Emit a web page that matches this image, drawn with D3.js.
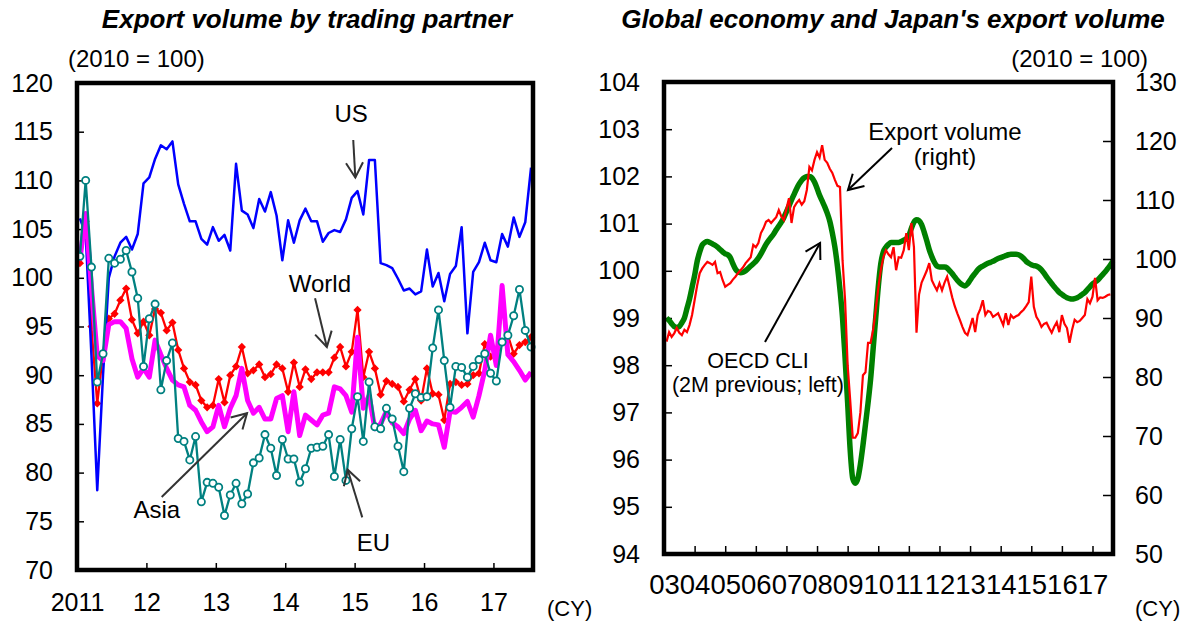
<!DOCTYPE html>
<html>
<head>
<meta charset="utf-8">
<script src="https://cdn.jsdelivr.net/npm/d3@7"></script>
<style>
  body { margin: 0; background: #fff; }
  text { font-family: Arial, "Liberation Sans", sans-serif; fill: #000; }
</style>
</head>
<body>
<svg id="chart" width="1192" height="626"></svg>
<script>
// ---- left panel: export volume by trading partner, monthly from Jan 2011 (2010 = 100)
const partnerTickYears = [2011, 2012, 2013, 2014, 2015, 2016, 2017];
const partnerTicks = [70, 75, 80, 85, 90, 95, 100, 105, 110, 115, 120];

const usVolume = [
  106.1, 104.5, 92.0, 78.2, 90.0, 100.0, 102.2, 103.6, 104.2, 102.9, 104.5, 109.7,
  110.3, 112.2, 113.6, 113.2, 114.0, 109.6, 107.6, 105.8, 105.8, 104.0, 103.4, 105.2,
  103.8, 104.4, 102.8, 111.7, 106.9, 106.5, 105.1, 108.1, 106.8, 108.8, 106.4, 101.8,
  105.9, 103.6, 105.9, 107.1, 105.8, 105.8, 103.7, 104.6, 104.9, 104.7, 106.0, 108.2,
  108.9, 106.5, 112.1, 112.1, 101.5, 101.3, 101.0, 99.9, 98.7, 98.9, 98.3, 98.6,
  102.9, 99.1, 100.5, 97.6, 100.4, 101.2, 105.2, 94.3, 100.6, 101.6, 103.6, 101.8,
  101.6, 104.5, 103.2, 106.2, 104.2, 105.7, 111.3
];
const worldVolume = [
  101.5, 105.8, 95.0, 87.1, 92.2, 95.8, 96.3, 97.7, 98.9, 95.7, 94.3, 95.5,
  94.1, 96.8, 96.4, 94.6, 95.4, 92.6, 90.7, 89.3, 89.0, 87.4, 86.7, 86.9,
  89.6, 87.2, 90.0, 90.9, 92.9, 90.2, 90.5, 91.1, 89.8, 90.1, 91.1, 90.7,
  88.3, 91.3, 88.8, 90.6, 89.6, 90.3, 90.3, 90.3, 91.8, 92.9, 90.9, 92.4,
  96.7, 89.8, 92.4, 90.7, 88.0, 89.4, 89.1, 88.8, 87.3, 88.5, 89.6, 87.4,
  90.7, 88.1, 88.0, 85.4, 89.1, 89.3, 89.0, 89.1, 90.0, 90.2, 93.2, 91.9,
  92.6, 96.7, 94.1, 92.2, 93.1, 93.4, 93.9
];
const asiaVolume = [
  101.8, 106.6, 99.0, 92.0, 91.5, 95.2, 95.5, 95.5, 94.8, 91.7, 89.8, 90.7,
  89.8, 93.6, 92.1, 90.7, 89.5, 89.0, 88.8, 86.9, 86.4, 85.2, 84.2, 84.7,
  86.9, 84.7, 86.6, 87.9, 90.7, 87.4, 86.1, 86.7, 85.5, 85.5, 87.6, 87.9,
  84.2, 88.3, 83.8, 85.9, 85.4, 84.9, 85.9, 86.1, 88.8, 88.6, 87.9, 86.2,
  93.9, 86.6, 87.9, 84.5, 85.0, 86.3, 85.1, 84.7, 84.0, 85.5, 86.4, 84.3,
  85.3, 85.0, 84.9, 82.6, 86.3, 86.2, 86.7, 87.3, 85.7, 87.9, 90.5, 94.1,
  91.0, 99.2, 92.1, 91.4, 90.5, 89.5, 90.3
];
const euVolume = [
  102.2, 110.0, 101.1, 89.3, 92.2, 102.0, 101.5, 101.9, 102.8, 100.6, 97.9, 90.9,
  95.8, 97.3, 88.5, 91.5, 93.3, 83.5, 83.2, 81.3, 83.7, 77.0, 79.0, 78.9,
  78.5, 75.6, 77.7, 78.9, 76.8, 77.8, 81.0, 81.5, 83.9, 82.5, 79.7, 83.4,
  81.4, 81.4, 79.0, 80.4, 82.5, 82.6, 82.7, 83.9, 79.6, 83.4, 79.2, 84.5,
  87.8, 83.2, 89.3, 84.7, 84.5, 86.6, 85.5, 82.7, 80.1, 86.6, 88.1, 87.7,
  87.8, 92.8, 96.7, 91.5, 86.7, 90.9, 90.8, 89.8, 90.9, 91.6, 92.2, 90.2,
  89.4, 93.4, 94.1, 96.1, 98.8, 94.6, 92.9
];

// ---- right panel: OECD CLI (left axis) and Japan's export volume (right axis), monthly from Jan 2003
const globalTickYears = d3.range(2003, 2018);
const cliTicks = [94, 95, 96, 97, 98, 99, 100, 101, 102, 103, 104];
const exportTicks = [50, 60, 70, 80, 90, 100, 110, 120, 130];

const oecdCli = [
  99.0, 98.95, 98.88, 98.82, 98.8, 98.82, 98.9, 99.0, 99.2, 99.4, 99.65, 99.9,
  100.2, 100.4, 100.55, 100.6, 100.62, 100.6, 100.57, 100.54, 100.5, 100.45, 100.4, 100.36,
  100.34, 100.28, 100.15, 100.04, 99.98, 99.96, 99.97, 100.0, 100.05, 100.1, 100.15, 100.2,
  100.27, 100.36, 100.46, 100.56, 100.64, 100.71, 100.78, 100.87, 100.95, 101.03, 101.13, 101.25,
  101.37, 101.5, 101.62, 101.74, 101.84, 101.92, 101.97, 102.0, 102.0, 101.97, 101.88, 101.75,
  101.6, 101.48, 101.36, 101.22, 101.05, 100.8, 100.5, 100.1, 99.6, 99.0, 98.15, 97.2,
  96.2, 95.6, 95.5, 95.6, 95.9, 96.3, 96.75, 97.2, 97.7, 98.35, 99.0, 99.65,
  100.15, 100.4, 100.5, 100.56, 100.6, 100.6, 100.6, 100.6, 100.62, 100.65, 100.68, 100.75,
  100.9, 101.03, 101.08, 101.06, 100.98, 100.82, 100.64, 100.45, 100.3, 100.18, 100.1, 100.08,
  100.08, 100.08, 100.06, 100.0, 99.94, 99.87, 99.8, 99.74, 99.7, 99.68, 99.72, 99.8,
  99.88, 99.95, 100.02, 100.07, 100.1, 100.13, 100.16, 100.18, 100.2, 100.23, 100.26, 100.28,
  100.3, 100.32, 100.34, 100.35, 100.35, 100.35, 100.34, 100.31, 100.26, 100.2, 100.16, 100.13,
  100.11, 100.1, 100.07, 100.02, 99.95, 99.87, 99.8, 99.73, 99.66, 99.6, 99.54, 99.5,
  99.46, 99.43, 99.41, 99.4, 99.41, 99.43, 99.46, 99.5, 99.54, 99.6, 99.66, 99.72,
  99.76, 99.8, 99.86, 99.92, 99.98, 100.05, 100.12, 100.2
];
const exportVolume = [
  86.0, 87.6, 86.8, 87.4, 88.3, 87.5, 87.1, 88.0, 87.6, 88.8, 90.5, 93.0,
  95.5, 97.6, 98.4, 99.0, 99.5, 99.3, 99.0, 99.5, 97.6, 97.8, 96.4, 95.3,
  95.6, 95.9, 96.5, 97.0, 97.6, 98.1, 98.6, 99.3, 99.8, 100.3, 102.4, 102.0,
  102.7, 104.4, 105.2, 106.3, 106.6, 106.1, 106.6, 107.1, 108.3, 107.2, 106.6, 108.5,
  110.3, 106.1, 108.8, 109.5, 110.0, 109.2, 109.8, 111.7, 115.6, 115.0, 116.8, 118.1,
  117.2, 119.3, 116.8, 116.3, 115.3, 114.6, 113.4, 112.4, 112.2, 99.8, 93.0, 82.0,
  76.1, 69.7, 69.7, 70.5, 74.0, 80.3, 80.8, 85.8, 85.8, 88.0, 91.4, 95.0,
  98.1, 100.3, 101.5, 100.8, 100.3, 102.0, 98.1, 100.3, 100.2, 101.5, 104.4, 101.5,
  106.1, 102.0, 87.5, 94.0, 96.0, 97.0, 98.0, 99.3, 96.4, 95.5, 94.7, 95.9,
  94.7, 96.0, 97.0, 95.3, 93.5, 92.0, 90.8, 89.7, 88.5, 87.5, 87.1, 88.5,
  90.0, 87.6, 90.5, 91.5, 93.0, 90.5, 91.2, 91.0, 90.2, 90.5, 90.8, 89.8,
  88.8, 90.8, 88.8, 90.5, 90.0, 90.3, 90.5, 91.0, 91.4, 92.0, 92.7, 97.0,
  91.9, 90.2, 89.5, 88.5, 89.0, 89.2, 88.3, 87.5, 88.5, 89.3, 87.6, 90.5,
  89.0, 88.3, 85.8, 88.0, 89.7, 89.3, 89.5, 90.0, 90.5, 93.2, 92.5, 93.6,
  96.8, 93.0, 93.5, 93.4, 93.6, 93.9, 94.0
];

const svg = d3.select('#chart');
const tickFont = 25;
const noteFont = 24;

function arrow(g, p1, p2, color) {
  const ang = Math.atan2(p2[1] - p1[1], p2[0] - p1[0]);
  const len = 17, spread = Math.PI / 6;
  const head = [ang + Math.PI - spread, ang + Math.PI + spread]
    .map(a => [p2[0] + len * Math.cos(a), p2[1] + len * Math.sin(a)]);
  g.append('line')
    .attr('x1', p1[0]).attr('y1', p1[1])
    .attr('x2', p2[0]).attr('y2', p2[1])
    .attr('stroke', color).attr('stroke-width', 2);
  g.append('path')
    .attr('d', `M${head[0][0]},${head[0][1]}L${p2[0]},${p2[1]}L${head[1][0]},${head[1][1]}`)
    .attr('fill', 'none').attr('stroke', color).attr('stroke-width', 2);
}

function styleAxis(g, size) {
  g.select('.domain').remove();
  g.selectAll('.tick line').attr('stroke', '#000').attr('stroke-width', 1.5);
  g.selectAll('.tick text')
    .attr('font-size', size || tickFont)
    .attr('font-family', 'Arial, "Liberation Sans", sans-serif')
    .attr('fill', '#000');
}

// ================= left panel =================
const L = {left: 77, right: 533, top: 83, bottom: 570};
const xL = d3.scaleLinear().domain([2011, 2017.57]).range([L.left, L.right]);
const yL = d3.scaleLinear().domain([70, 120]).range([L.bottom, L.top]);
const monthL = i => 2011 + (i + 0.5) / 12;

svg.append('text')
  .attr('x', 307).attr('y', 28)
  .attr('text-anchor', 'middle')
  .attr('font-size', 26).attr('font-weight', 'bold').attr('font-style', 'italic')
  .text('Export volume by trading partner');
svg.append('text')
  .attr('x', 68).attr('y', 67)
  .attr('font-size', noteFont)
  .text('(2010 = 100)');

svg.append('g')
  .attr('transform', `translate(${L.left},0)`)
  .call(d3.axisLeft(yL).tickValues(partnerTicks).tickSize(-7).tickPadding(24))
  .call(styleAxis);

svg.append('g')
  .attr('transform', `translate(0,${L.bottom})`)
  .call(d3.axisBottom(xL).tickValues(partnerTickYears).tickSize(-7).tickPadding(23)
    .tickFormat(d => d === 2011 ? '2011' : String(d).slice(2)))
  .call(styleAxis);

const lineL = d3.line().x((d, i) => xL(monthL(i))).y(d => yL(d));

const plotL = svg.append('g');

plotL.append('path')
  .datum(worldVolume)
  .attr('d', lineL)
  .attr('fill', 'none').attr('stroke', '#ff0000').attr('stroke-width', 2.3);
plotL.selectAll('.world-marker')
  .data(worldVolume)
  .enter().append('path')
  .attr('class', 'world-marker')
  .attr('d', d3.symbol().type(d3.symbolSquare).size(34)())
  .attr('transform', (d, i) => `translate(${xL(monthL(i))},${yL(d)}) rotate(45)`)
  .attr('fill', '#ff0000');

plotL.append('path')
  .datum(usVolume)
  .attr('d', lineL)
  .attr('fill', 'none').attr('stroke', '#0000ff').attr('stroke-width', 2.5)
  .attr('stroke-linejoin', 'round');

plotL.append('path')
  .datum(asiaVolume)
  .attr('d', lineL)
  .attr('fill', 'none').attr('stroke', '#ff00ff').attr('stroke-width', 5)
  .attr('stroke-linejoin', 'round');

plotL.append('path')
  .datum(euVolume)
  .attr('d', lineL)
  .attr('fill', 'none').attr('stroke', '#008080').attr('stroke-width', 2.3);
plotL.selectAll('.eu-marker')
  .data(euVolume)
  .enter().append('circle')
  .attr('class', 'eu-marker')
  .attr('cx', (d, i) => xL(monthL(i)))
  .attr('cy', d => yL(d))
  .attr('r', 3.6)
  .attr('fill', '#fff').attr('stroke', '#008080').attr('stroke-width', 1.8);

// labels and arrows, placed in data units
const partnerNotes = [
  {text: 'US', at: [2014.95, 116.0], from: [2014.98, 114.15], to: [2015.01, 110.3]},
  {text: 'World', at: [2014.50, 98.5], from: [2014.43, 97.9], to: [2014.60, 92.9]},
  {text: 'Asia', at: [2012.15, 75.3], from: [2012.22, 77.5], to: [2013.45, 86.1]},
  {text: 'EU', at: [2015.27, 72.0], from: [2015.11, 75.4], to: [2014.90, 80.3]}
];
const notesL = svg.append('g');
partnerNotes.forEach(n => {
  notesL.append('text')
    .attr('x', xL(n.at[0])).attr('y', yL(n.at[1]))
    .attr('text-anchor', 'middle')
    .attr('font-size', noteFont)
    .text(n.text);
  arrow(notesL, [xL(n.from[0]), yL(n.from[1])], [xL(n.to[0]), yL(n.to[1])], '#333');
});

svg.append('rect')
  .attr('x', L.left).attr('y', L.top)
  .attr('width', L.right - L.left).attr('height', L.bottom - L.top)
  .attr('fill', 'none').attr('stroke', '#000').attr('stroke-width', 4.5);

svg.append('text')
  .attr('x', 547).attr('y', 616)
  .attr('font-size', 22)
  .text('(CY)');

// ================= right panel =================
const R = {left: 664, right: 1113, top: 82, bottom: 554};
const xR = d3.scaleLinear().domain([2003, 2017.67]).range([R.left, R.right]);
const yCli = d3.scaleLinear().domain([94, 104]).range([R.bottom, R.top]);
const yExp = d3.scaleLinear().domain([50, 130]).range([R.bottom, R.top]);
const monthR = m => 2003 + (m + 1) / 12;

svg.append('text')
  .attr('x', 893).attr('y', 28)
  .attr('text-anchor', 'middle')
  .attr('font-size', 26).attr('font-weight', 'bold').attr('font-style', 'italic')
  .text("Global economy and Japan's export volume");
svg.append('text')
  .attr('x', 1148).attr('y', 67)
  .attr('text-anchor', 'end')
  .attr('font-size', noteFont)
  .text('(2010 = 100)');

svg.append('g')
  .attr('transform', `translate(${R.left},0)`)
  .call(d3.axisLeft(yCli).tickValues(cliTicks).tickSize(-8).tickPadding(24))
  .call(styleAxis);

svg.append('g')
  .attr('transform', `translate(${R.right},0)`)
  .call(d3.axisRight(yExp).tickValues(exportTicks).tickSize(-10).tickPadding(22))
  .call(styleAxis);

svg.append('g')
  .attr('transform', `translate(0,${R.bottom})`)
  .call(d3.axisBottom(xR).tickValues(globalTickYears).tickSize(-8).tickPadding(20)
    .tickFormat(d => String(d).slice(2)))
  .call(g => styleAxis(g, 27.5));

const plotR = svg.append('g');

plotR.append('path')
  .datum(oecdCli)
  .attr('d', d3.line().x((d, m) => xR(monthR(m))).y(d => yCli(d)).curve(d3.curveMonotoneX))
  .attr('fill', 'none').attr('stroke', '#008000').attr('stroke-width', 5.5)
  .attr('stroke-linejoin', 'round');

plotR.append('path')
  .datum(exportVolume)
  .attr('d', d3.line().x((d, m) => xR(monthR(m))).y(d => yExp(d)))
  .attr('fill', 'none').attr('stroke', '#ff0000').attr('stroke-width', 2.2);

const globalNotes = [
  {lines: ['Export volume', '(right)'], size: 24, gap: 25, at: [2012.18, 102.77], from: [2010.45, 102.6], to: [2009.01, 101.71]},
  {lines: ['OECD CLI', '(2M previous; left)'], size: 21.5, gap: 24, at: [2006.07, 97.94], from: [2006.30, 98.49], to: [2008.10, 100.59]}
];
const notesR = svg.append('g');
globalNotes.forEach(n => {
  const t = notesR.append('text')
    .attr('x', xR(n.at[0])).attr('y', yCli(n.at[1]))
    .attr('text-anchor', 'middle')
    .attr('font-size', n.size);
  n.lines.forEach((s, k) => {
    t.append('tspan').attr('x', xR(n.at[0])).attr('dy', k === 0 ? 0 : n.gap).text(s);
  });
  arrow(notesR, [xR(n.from[0]), yCli(n.from[1])], [xR(n.to[0]), yCli(n.to[1])], '#000');
});

svg.append('rect')
  .attr('x', R.left).attr('y', R.top)
  .attr('width', R.right - R.left).attr('height', R.bottom - R.top)
  .attr('fill', 'none').attr('stroke', '#000').attr('stroke-width', 4.5);

svg.append('text')
  .attr('x', 1135).attr('y', 616)
  .attr('font-size', 22)
  .text('(CY)');
</script>
</body>
</html>
